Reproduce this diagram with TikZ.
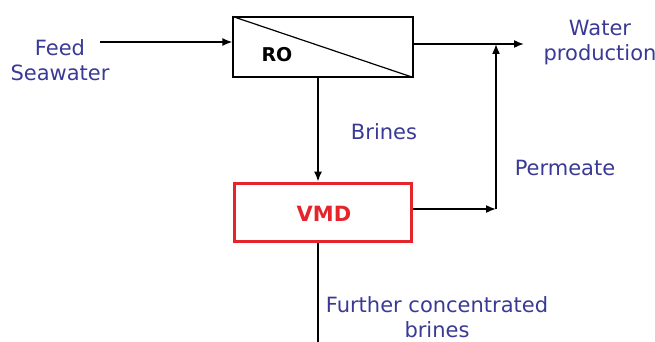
\documentclass[tikz,border=0pt]{standalone}
\usepackage{fontspec}
\setmainfont{DejaVu Sans}
\usetikzlibrary{arrows.meta}
\definecolor{lblblue}{HTML}{3A3A96}
\definecolor{vmdred}{HTML}{E5252B}
\tikzset{
  lbl/.style={text=lblblue, align=center, font=\fontsize{21}{25}\selectfont, inner sep=0pt},
  unitbox/.style={draw=black, line width=1.2pt, minimum width=180pt, minimum height=60pt, inner sep=0pt},
  flow/.style={draw=black, line width=1.6pt, -{Latex[length=10pt,width=8pt]}},
  plain/.style={draw=black, line width=1.6pt}
}
\begin{document}
\begin{tikzpicture}[x=1pt,y=-1pt]
\useasboundingbox (0,0) rectangle (655,342);
\node[unitbox] (ro) at (323,47) {};
\draw[line width=1.2pt] (ro.north west) -- (ro.south east);
\node[font=\fontsize{19}{20}\selectfont\bfseries, inner sep=0pt] (rotxt) at (277,55) {RO};
\node[unitbox, draw=vmdred, line width=3.8pt, minimum width=177pt, minimum height=58pt] (vmd) at (323,212.5) {};
\node[font=\fontsize{21}{20}\selectfont\bfseries, text=vmdred, inner sep=0pt] (vmdtxt) at (324,214) {VMD};
\node[lbl] (feed) at (60,60) {Feed\\Seawater};
\node[lbl] (water) at (600,43) {Water\\production};
\node[lbl] (brines) at (384,132) {Brines};
\node[lbl] (perm) at (565,168) {Permeate};
\node[lbl] (further) at (437,317) {Further concentrated\\brines};
\coordinate (f) at (100,42);
\coordinate (oy) at (0,44);
\coordinate (j) at (496,44);
\coordinate (w) at (524,44);
\coordinate (p) at (496,209);
\coordinate (bx) at (318,0);
\coordinate (end) at (318,354);
\draw[flow] (f) -- (f -| ro.west);
\draw[flow] (ro.east |- oy) -- (w);
\draw[flow] (ro.south -| bx) -- (vmd.north -| bx);
\draw[flow] (vmd.east |- p) -- (p);
\draw[flow] (p) -- (j);
\draw[flow] (vmd.south -| bx) -- (end);
\end{tikzpicture}
\end{document}
